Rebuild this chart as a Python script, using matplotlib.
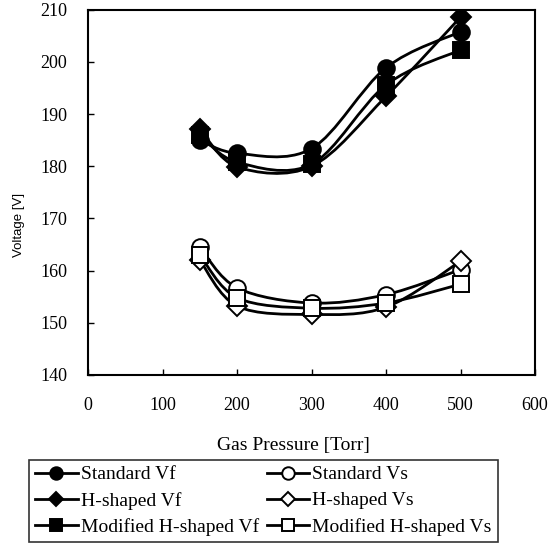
import numpy as np
import matplotlib
matplotlib.use('Agg')
import matplotlib.pyplot as plt
from matplotlib.path import Path
from matplotlib.patches import PathPatch
from matplotlib.lines import Line2D

plt.rcParams['font.family'] = 'Liberation Serif'

pressure = [150, 200, 300, 400, 500]
std_vf = [185.0, 182.5, 183.4, 198.9, 205.8]
h_vf = [187.2, 179.9, 180.0, 193.4, 208.6]
mod_vf = [186.0, 180.8, 180.4, 195.6, 202.3]
std_vs = [164.5, 156.7, 153.8, 155.4, 160.2]
h_vs = [162.0, 153.2, 151.6, 153.0, 161.8]
mod_vs = [163.0, 154.8, 152.8, 153.8, 157.4]

labels = ['Standard Vf', 'H-shaped Vf', 'Modified H-shaped Vf',
          'Standard Vs', 'H-shaped Vs', 'Modified H-shaped Vs']
series = [std_vf, h_vf, mod_vf, std_vs, h_vs, mod_vs]
markers = ['o', 'D', 's', 'o', 'D', 's']
faces = ['black', 'black', 'black', 'white', 'white', 'white']
sizes = [12, 10, 11, 12, 10, 11]
leg_sizes = [9, 7.5, 8.5, 9, 7.5, 8.5]


def smooth_path(x, y):
    # catmull-rom style bezier through the points (like excel smoothed lines)
    p = np.column_stack([x, y]).astype(float)
    verts = [p[0]]
    codes = [Path.MOVETO]
    n = len(p)
    for i in range(n - 1):
        p0 = p[i - 1] if i > 0 else p[i]
        p1 = p[i]
        p2 = p[i + 1]
        p3 = p[i + 2] if i + 2 < n else p[i + 1]
        c1 = p1 + (p2 - p0) / 6.0
        c2 = p2 - (p3 - p1) / 6.0
        verts += [c1, c2, p2]
        codes += [Path.CURVE4] * 3
    return Path(verts, codes)


fig = plt.figure(figsize=(5.51, 5.45), dpi=100)
ax = fig.add_axes([0.16, 0.312, 0.811, 0.670])

handles = []
for s, m, fc, ms, lms, lab in zip(series, markers, faces, sizes, leg_sizes, labels):
    ax.add_patch(PathPatch(smooth_path(pressure, s), facecolor='none',
                           edgecolor='black', lw=2, zorder=2))
    ax.plot(pressure, s, linestyle='none', marker=m, ms=ms,
            markerfacecolor=fc, markeredgecolor='black', mew=1.4, zorder=3)
    handles.append(Line2D([], [], color='black', lw=2, marker=m, ms=lms,
                          markerfacecolor=fc, markeredgecolor='black', mew=1.4))

ax.set_xlim(0, 600)
ax.set_ylim(140, 210)
ax.set_xticks(np.arange(0, 601, 100))
ax.set_yticks(np.arange(140, 211, 10))
ax.tick_params(direction='in', length=4, width=1, labelsize=13)
ax.tick_params(axis='y', pad=15)
ax.tick_params(axis='x', pad=16)
for sp in ax.spines.values():
    sp.set_linewidth(1.5)

ax.set_xlabel('Gas Pressure [Torr]', fontsize=14)
ax.xaxis.set_label_coords(0.46, -0.17)
ax.set_ylabel('Voltage [V]', fontsize=9.5, family='Liberation Sans')
ax.yaxis.set_label_coords(-0.141, 0.41)

leg = fig.legend(handles, labels, ncol=2, loc='upper left',
                 bbox_to_anchor=(0.053, 1 - 460 / 545), fontsize=14,
                 frameon=True, fancybox=False, edgecolor='black',
                 handlelength=2.2, handletextpad=0.15, columnspacing=0.4,
                 labelspacing=0.43, borderpad=0.3, borderaxespad=0)
leg.get_frame().set_linewidth(1.2)

fig.savefig('out.png', dpi=100)
